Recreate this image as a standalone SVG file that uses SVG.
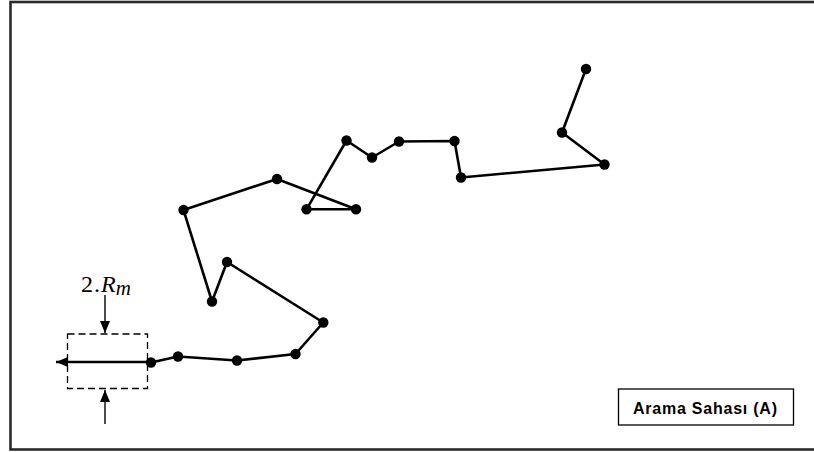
<svg xmlns="http://www.w3.org/2000/svg" width="814" height="452" viewBox="0 0 814 452">
<style>
.pt{fill:#000}
.edge{fill:none;stroke:#000;stroke-width:2.6;stroke-linejoin:round}
.dash{fill:none;stroke:#000;stroke-width:1.3;stroke-dasharray:7,4}
.arr{stroke:#000;stroke-width:1.4}
.lbl{font-family:"Liberation Sans",Arial,sans-serif;font-weight:bold;font-size:16px;fill:#000}
.math{font-family:"Liberation Serif","Times New Roman",serif;fill:#000}
</style>
<defs>
<marker id="ah" markerWidth="12" markerHeight="10" refX="12" refY="5" orient="auto" markerUnits="userSpaceOnUse">
<path d="M0,0 L12,5 L0,10 Z" fill="#000"/>
</marker>
</defs>
<rect x="0" y="0" width="814" height="452" fill="#fff"/>
<rect id="frame" x="10.5" y="2" width="812" height="447.5" fill="none" stroke="#2a2a2a" stroke-width="2.6"/>
<g id="connectors">
<polyline class="edge" points="586,69 562,132.5 604.5,164.5 461,177.5 454.5,141 399,141.5 372,157.5 346.5,140.5 306.5,209.3 356,209.3 277,179 183.5,210 212,301.5 227,262 323.3,322.5 295.5,354 237,360.5 178,356.5 151,362.5"/>
<line class="edge" x1="151" y1="362" x2="56" y2="362" stroke-width="2.2" marker-end="url(#ah)"/>
<line class="arr" x1="105" y1="295" x2="105" y2="333" marker-end="url(#ah)"/>
<line class="arr" x1="105" y1="424" x2="105" y2="390" marker-end="url(#ah)"/>
</g>
<g id="nodes">
<g id="n1"><circle class="pt" cx="586" cy="69" r="5.2"/></g>
<g id="n2"><circle class="pt" cx="562" cy="132.5" r="5.2"/></g>
<g id="n3"><circle class="pt" cx="604.5" cy="164.5" r="5.2"/></g>
<g id="n4"><circle class="pt" cx="461" cy="177.5" r="5.2"/></g>
<g id="n5"><circle class="pt" cx="454.5" cy="141" r="5.2"/></g>
<g id="n6"><circle class="pt" cx="399" cy="141.5" r="5.2"/></g>
<g id="n7"><circle class="pt" cx="372" cy="157.5" r="5.2"/></g>
<g id="n8"><circle class="pt" cx="346.5" cy="140.5" r="5.2"/></g>
<g id="n9"><circle class="pt" cx="306.5" cy="209.3" r="5.2"/></g>
<g id="n10"><circle class="pt" cx="356" cy="209.3" r="5.2"/></g>
<g id="n11"><circle class="pt" cx="277" cy="179" r="5.2"/></g>
<g id="n12"><circle class="pt" cx="183.5" cy="210" r="5.2"/></g>
<g id="n13"><circle class="pt" cx="212" cy="301.5" r="5.2"/></g>
<g id="n14"><circle class="pt" cx="227" cy="262" r="5.2"/></g>
<g id="n15"><circle class="pt" cx="323.3" cy="322.5" r="5.2"/></g>
<g id="n16"><circle class="pt" cx="295.5" cy="354" r="5.2"/></g>
<g id="n17"><circle class="pt" cx="237" cy="360.5" r="5.2"/></g>
<g id="n18"><circle class="pt" cx="178" cy="356.5" r="5.2"/></g>
<g id="n19"><circle class="pt" cx="151" cy="362.5" r="5.2"/></g>
</g>
<g id="sensor">
<rect class="dash" x="67.5" y="334" width="80" height="54.5"/>
<text class="math" x="81" y="292" font-size="24" fill="#222">2<tspan dx="1">.</tspan><tspan font-style="italic" dx="1">R</tspan><tspan font-style="italic" font-size="21" dy="3">m</tspan></text>
</g>
<g id="legend">
<rect x="618.5" y="389" width="175" height="36" fill="#fff" stroke="#000" stroke-width="1.3"/>
<text class="lbl" x="633" y="414" textLength="144" lengthAdjust="spacing">Arama Sahası (A)</text>
</g>
</svg>
